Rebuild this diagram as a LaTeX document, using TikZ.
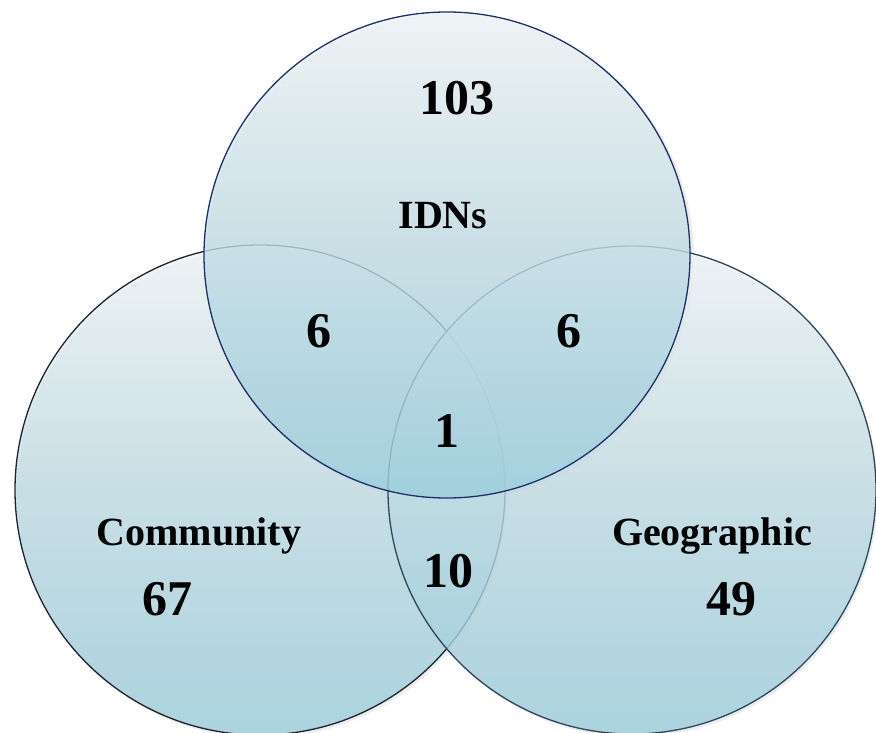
\documentclass[tikz,border=0pt]{standalone}
\usepackage{fontspec}
\setmainfont{Liberation Serif}
\definecolor{ctop}{RGB}{240,245,247}
\definecolor{cmid}{RGB}{192,220,228}
\definecolor{cbot}{RGB}{155,205,220}
\definecolor{edgeA}{RGB}{30,48,105}
\definecolor{edgeB}{RGB}{30,35,45}
\definecolor{edgeC}{RGB}{45,70,90}
\tikzset{
  venn/.style={top color=ctop, bottom color=cbot, middle color=cmid, fill opacity=0.8, line width=1.3pt},
  shade/.style={fill=black, fill opacity=0.07, draw=none},
  numlbl/.style={anchor=base, inner sep=0pt, font=\fontsize{50}{60}\selectfont\bfseries},
  setlbl/.style={anchor=base, inner sep=0pt, font=\fontsize{40}{48}\selectfont\bfseries},
}
\begin{document}
\begin{tikzpicture}[x=1pt,y=-1pt]
\useasboundingbox (0,0) rectangle (876,733);
% shadows
\fill[shade] (450,258) circle (244);
\fill[shade] (262,493) circle (245);
\fill[shade] (634,493) circle (244);
% circles
\draw[venn, draw=edgeB] (260,490) circle (245);
\draw[venn, draw=edgeC] (632,490) circle (244);
\draw[venn, draw=edgeA] (447,255) circle (243);
% labels
\node[numlbl] (n103) at (457,115) {103};
\node[setlbl] (idns) at (443,228) {IDNs};
\node[numlbl] (n6a) at (319,347) {6};
\node[numlbl] (n6b) at (569,347) {6};
\node[numlbl] (n1) at (447,447) {1};
\node[numlbl] (n10) at (448,587) {10};
\node[setlbl] (comm) at (199,545) {Community};
\node[numlbl] (n67) at (167,615) {67};
\node[setlbl] (geo) at (712,545) {Geographic};
\node[numlbl] (n49) at (731,615) {49};
\end{tikzpicture}
\end{document}
